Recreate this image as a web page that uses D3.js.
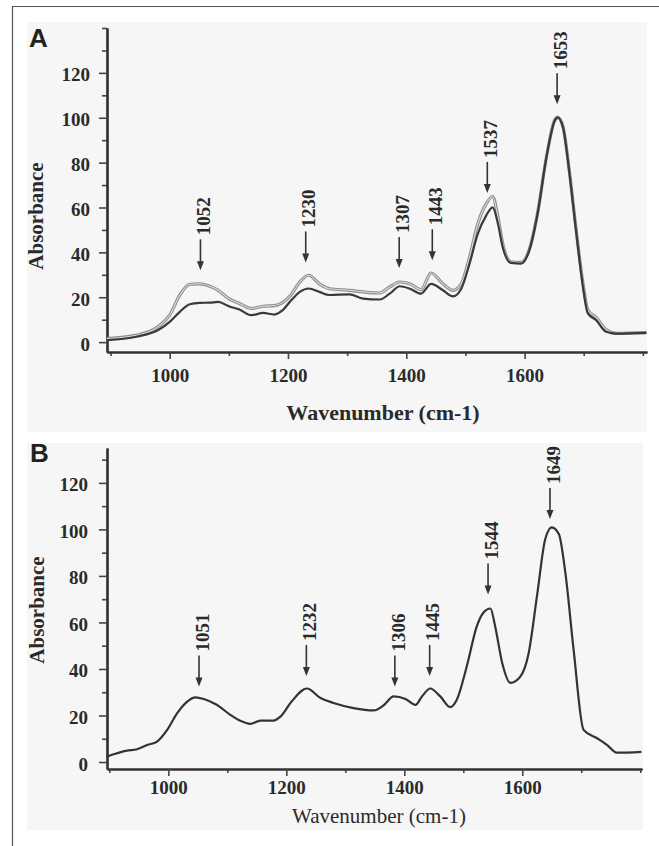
<!DOCTYPE html>
<html>
<head>
<meta charset="utf-8">
<script src="https://cdn.jsdelivr.net/npm/d3@7"></script>
<style>
  body { margin: 0; background: #fff; }
  svg { display: block; }
  .serif { font-family: "Liberation Serif", "Times New Roman", serif; fill: #2a2a2a; }
</style>
</head>
<body>
<div id="chart"></div>
<script>
// Panel A: two spectra on a shared wavenumber grid
var waveA = [894, 944, 980, 1000, 1017, 1034, 1051, 1068, 1082, 1100, 1118, 1138, 1158, 1177, 1190, 1205,
    1220, 1235, 1253, 1270, 1304, 1327, 1355, 1372, 1389, 1406, 1425, 1442, 1462, 1479, 1493, 1507,
    1521, 1535, 1546, 1555, 1563, 1577, 1594, 1608, 1622, 1637, 1651, 1656, 1665, 1676, 1687, 1698,
    1707, 1721, 1738, 1755, 1806];
var absA1 = [1.6, 3.1, 6.8, 12, 20.9, 25.8, 26, 24.9, 23.1, 19.4, 17.2, 15, 16, 16.3, 17.5, 21,
    26.8, 29.8, 26, 23.8, 23.1, 22.4, 21.9, 24.6, 26.8, 26, 23.4, 30.8, 26, 23.1, 26, 37.9,
    52.8, 61.6, 64.9, 55.7, 43.9, 35.8, 35.5, 41.3, 57.5, 82.6, 99, 100.3, 96, 75.5, 50.5, 27.5,
    14.3, 11, 5.6, 3.9, 4.2];
var absA2 = [0.9, 2.4, 5.3, 9, 13.5, 16.9, 17.5, 17.6, 17.9, 16, 14.5, 12, 13, 12.3, 14, 18.5,
    22.4, 23.9, 22.4, 21, 21.3, 19.4, 19, 21.6, 24.9, 23.8, 21.6, 26, 23.1, 20.4, 23.8, 35,
    48.3, 56.4, 60.1, 52.8, 42.4, 35.3, 35, 40.9, 57.2, 82.4, 98.7, 100.1, 95.7, 75, 49.8, 26,
    12.8, 9.8, 4.6, 3.8, 4.1];

// Panel B: one spectrum
var waveB = [895, 930, 947, 964, 981, 998, 1015, 1032, 1046, 1060, 1082, 1105, 1122, 1139, 1156, 1178,
    1190, 1209, 1235, 1258, 1280, 1314, 1348, 1365, 1382, 1402, 1419, 1430, 1444, 1461, 1478, 1489,
    1506, 1523, 1534, 1546, 1554, 1566, 1580, 1597, 1611, 1625, 1639, 1650, 1662, 1673, 1687, 1704,
    1727, 1744, 1760, 1802];
var absB = [2.3, 4.9, 5.5, 7.3, 8.8, 13.8, 21, 26, 27.8, 27.1, 24.6, 20.3, 17.7, 16.4, 17.8, 17.8,
    19.5, 26, 31.6, 27.5, 25.4, 23.2, 22.2, 24.4, 28.2, 27.1, 24.6, 28.2, 31.6, 28.2, 23.6, 26.8,
    41.2, 58.4, 64.2, 66, 58.4, 42.6, 34, 36.8, 47, 71.4, 95.9, 100.9, 98, 81.5, 48.4, 13.8,
    10.2, 7.3, 4, 4.4];

// Peak annotations: label text, arrow position (cm-1), arrow tip (absorbance)
var peakLabelsA = ["1052", "1230", "1307", "1443", "1537", "1653"];
var peakWaveA = [1052, 1230, 1388, 1444, 1537, 1655];
var peakTipA = [32, 35.5, 33, 36.5, 66.5, 106];

var peakLabelsB = ["1051", "1232", "1306", "1445", "1544", "1649"];
var peakWaveB = [1052, 1234, 1384, 1443, 1542, 1647];
var peakTipB = [32.5, 37, 32.5, 37, 72, 104.5];

var majorX = [1000, 1200, 1400, 1600];
var minorX = [900, 1100, 1300, 1500, 1700, 1800];
var majorY = [0, 20, 40, 60, 80, 100, 120];
var minorY = [10, 30, 50, 70, 90, 110, 130, 140];

var W = 659, H = 846;

var svg = d3.select("#chart").append("svg")
    .attr("width", W)
    .attr("height", H);

// outer frame (runs off the right and bottom edge)
svg.append("path")
    .attr("d", "M12.5," + H + "V6.5H" + W)
    .attr("fill", "none")
    .attr("stroke", "#555")
    .attr("stroke-width", 1.2);

SpectrumVis = function(_svg, _opts) {
    this.svg = _svg;
    this.opts = _opts;
    this.initVis();
};

SpectrumVis.prototype.initVis = function() {
    var vis = this, o = vis.opts;

    vis.g = vis.svg.append("g");

    // light grey plot background
    vis.g.append("rect")
        .attr("x", o.bg[0]).attr("y", o.bg[1])
        .attr("width", o.bg[2] - o.bg[0]).attr("height", o.bg[3] - o.bg[1])
        .attr("fill", "#f6f6f6");

    vis.x = d3.scaleLinear().domain(o.xDomain).range([o.left, o.right]);
    vis.y = d3.scaleLinear().domain(o.yDomain).range([o.bottom, o.top]);

    // only keep minor ticks that fall inside the axis
    var yMinor = minorY.filter(function(v) { return v <= o.yDomain[1]; });

    // minor ticks first, then major ticks with labels
    vis.g.append("g")
        .attr("transform", "translate(0," + o.bottom + ")")
        .call(d3.axisBottom(vis.x).tickValues(minorX).tickSize(4).tickSizeOuter(0).tickFormat(""));
    vis.g.append("g")
        .attr("transform", "translate(" + o.left + ",0)")
        .call(d3.axisLeft(vis.y).tickValues(yMinor).tickSize(5).tickSizeOuter(0).tickFormat(""));

    vis.xAxis = vis.g.append("g")
        .attr("class", "x-axis")
        .attr("transform", "translate(0," + o.bottom + ")")
        .call(d3.axisBottom(vis.x).tickValues(majorX).tickSize(7).tickSizeOuter(0)
            .tickPadding(o.xPad).tickFormat(d3.format("d")));
    vis.yAxis = vis.g.append("g")
        .attr("class", "y-axis")
        .attr("transform", "translate(" + o.left + ",0)")
        .call(d3.axisLeft(vis.y).tickValues(majorY).tickSize(8).tickSizeOuter(0)
            .tickPadding(o.yPad).tickFormat(d3.format("d")));

    vis.g.selectAll(".domain").attr("stroke", "#333").attr("stroke-width", 2.2);
    vis.g.selectAll(".tick line").attr("stroke", "#444").attr("stroke-width", 1.6);
    vis.g.selectAll(".x-axis text, .y-axis text")
        .attr("class", "serif")
        .attr("font-size", 19)
        .attr("font-weight", "bold");
    vis.yAxis.selectAll("text").attr("dy", "0.42em");

    // axis titles
    vis.g.append("text")
        .attr("class", "serif")
        .attr("transform", "translate(" + o.yTitle[0] + "," + o.yTitle[1] + ") rotate(-90)")
        .attr("text-anchor", "middle")
        .attr("dy", "0.35em")
        .attr("font-size", 21)
        .attr("font-weight", "bold")
        .text("Absorbance");

    vis.g.append("text")
        .attr("class", "serif")
        .attr("x", o.xTitle[0]).attr("y", o.xTitle[1])
        .attr("text-anchor", "middle")
        .attr("font-size", o.xTitleSize)
        .attr("font-weight", o.xTitleWeight)
        .text("Wavenumber (cm-1)");

    // panel letter
    vis.g.append("text")
        .attr("x", o.letterPos[0]).attr("y", o.letterPos[1])
        .attr("font-family", "Liberation Sans, Arial, sans-serif")
        .attr("font-size", 26)
        .attr("font-weight", "bold")
        .attr("fill", "#222")
        .text(o.letter);

    vis.line = d3.line()
        .curve(d3.curveMonotoneX)
        .x(function(d) { return vis.x(d[0]); })
        .y(function(d) { return vis.y(d[1]); });

    vis.updateVis();
};

SpectrumVis.prototype.updateVis = function() {
    var vis = this, o = vis.opts;

    o.series.forEach(function(s) {
        var pts = d3.zip(o.wave, s.values);
        vis.g.append("path")
            .datum(pts)
            .attr("d", vis.line)
            .attr("fill", "none")
            .attr("stroke", s.color)
            .attr("stroke-width", s.width)
            .attr("stroke-linejoin", "round");
        if (s.inner) {
            vis.g.append("path")
                .datum(pts)
                .attr("d", vis.line)
                .attr("fill", "none")
                .attr("stroke", s.inner)
                .attr("stroke-width", 1.1);
        }
    });

    // arrows + rotated peak labels
    var peaks = o.peakLabels.map(function(t, i) {
        return { label: t, wave: o.peakWave[i], tip: o.peakTip[i] };
    });

    var pk = vis.g.selectAll(".peak")
        .data(peaks)
        .enter().append("g")
        .attr("class", "peak")
        .attr("transform", function(d) {
            return "translate(" + vis.x(d.wave) + "," + vis.y(d.tip) + ")";
        });

    pk.append("line")
        .attr("x1", 0).attr("x2", 0)
        .attr("y1", -31).attr("y2", -7)
        .attr("stroke", "#333")
        .attr("stroke-width", 1.6);

    pk.append("path")
        .attr("d", "M-3.5,-9L3.5,-9L0,0Z")
        .attr("fill", "#333");

    pk.append("text")
        .attr("class", "serif")
        .attr("transform", "translate(3,-35) rotate(-90)")
        .attr("dy", "0.35em")
        .attr("font-size", 19)
        .attr("font-weight", "bold")
        .text(function(d) { return d.label; });
};

var panelA = new SpectrumVis(svg, {
    letter: "A",
    letterPos: [29, 47],
    bg: [27, 22, 647, 432],
    left: 107, right: 647, top: 28, bottom: 352,
    xDomain: [894, 1807], yDomain: [-4.4, 140],
    xPad: 10, yPad: 9,
    yTitle: [36, 216],
    xTitle: [383, 420], xTitleSize: 22, xTitleWeight: "bold",
    wave: waveA,
    series: [
        { values: absA1, color: "#8c8c8c", width: 3.2, inner: "#dcdcdc" },
        { values: absA2, color: "#3a3a3a", width: 2.2 }
    ],
    peakLabels: peakLabelsA, peakWave: peakWaveA, peakTip: peakTipA
});

var panelB = new SpectrumVis(svg, {
    letter: "B",
    letterPos: [30, 462],
    bg: [27, 443, 643, 830],
    left: 107, right: 642, top: 448, bottom: 769,
    xDomain: [896, 1803], yDomain: [-3, 135],
    xPad: 5, yPad: 11,
    yTitle: [37, 610],
    xTitle: [379, 823], xTitleSize: 21, xTitleWeight: "normal",
    wave: waveB,
    series: [
        { values: absB, color: "#333", width: 2.2 }
    ],
    peakLabels: peakLabelsB, peakWave: peakWaveB, peakTip: peakTipB
});
</script>
</body>
</html>
